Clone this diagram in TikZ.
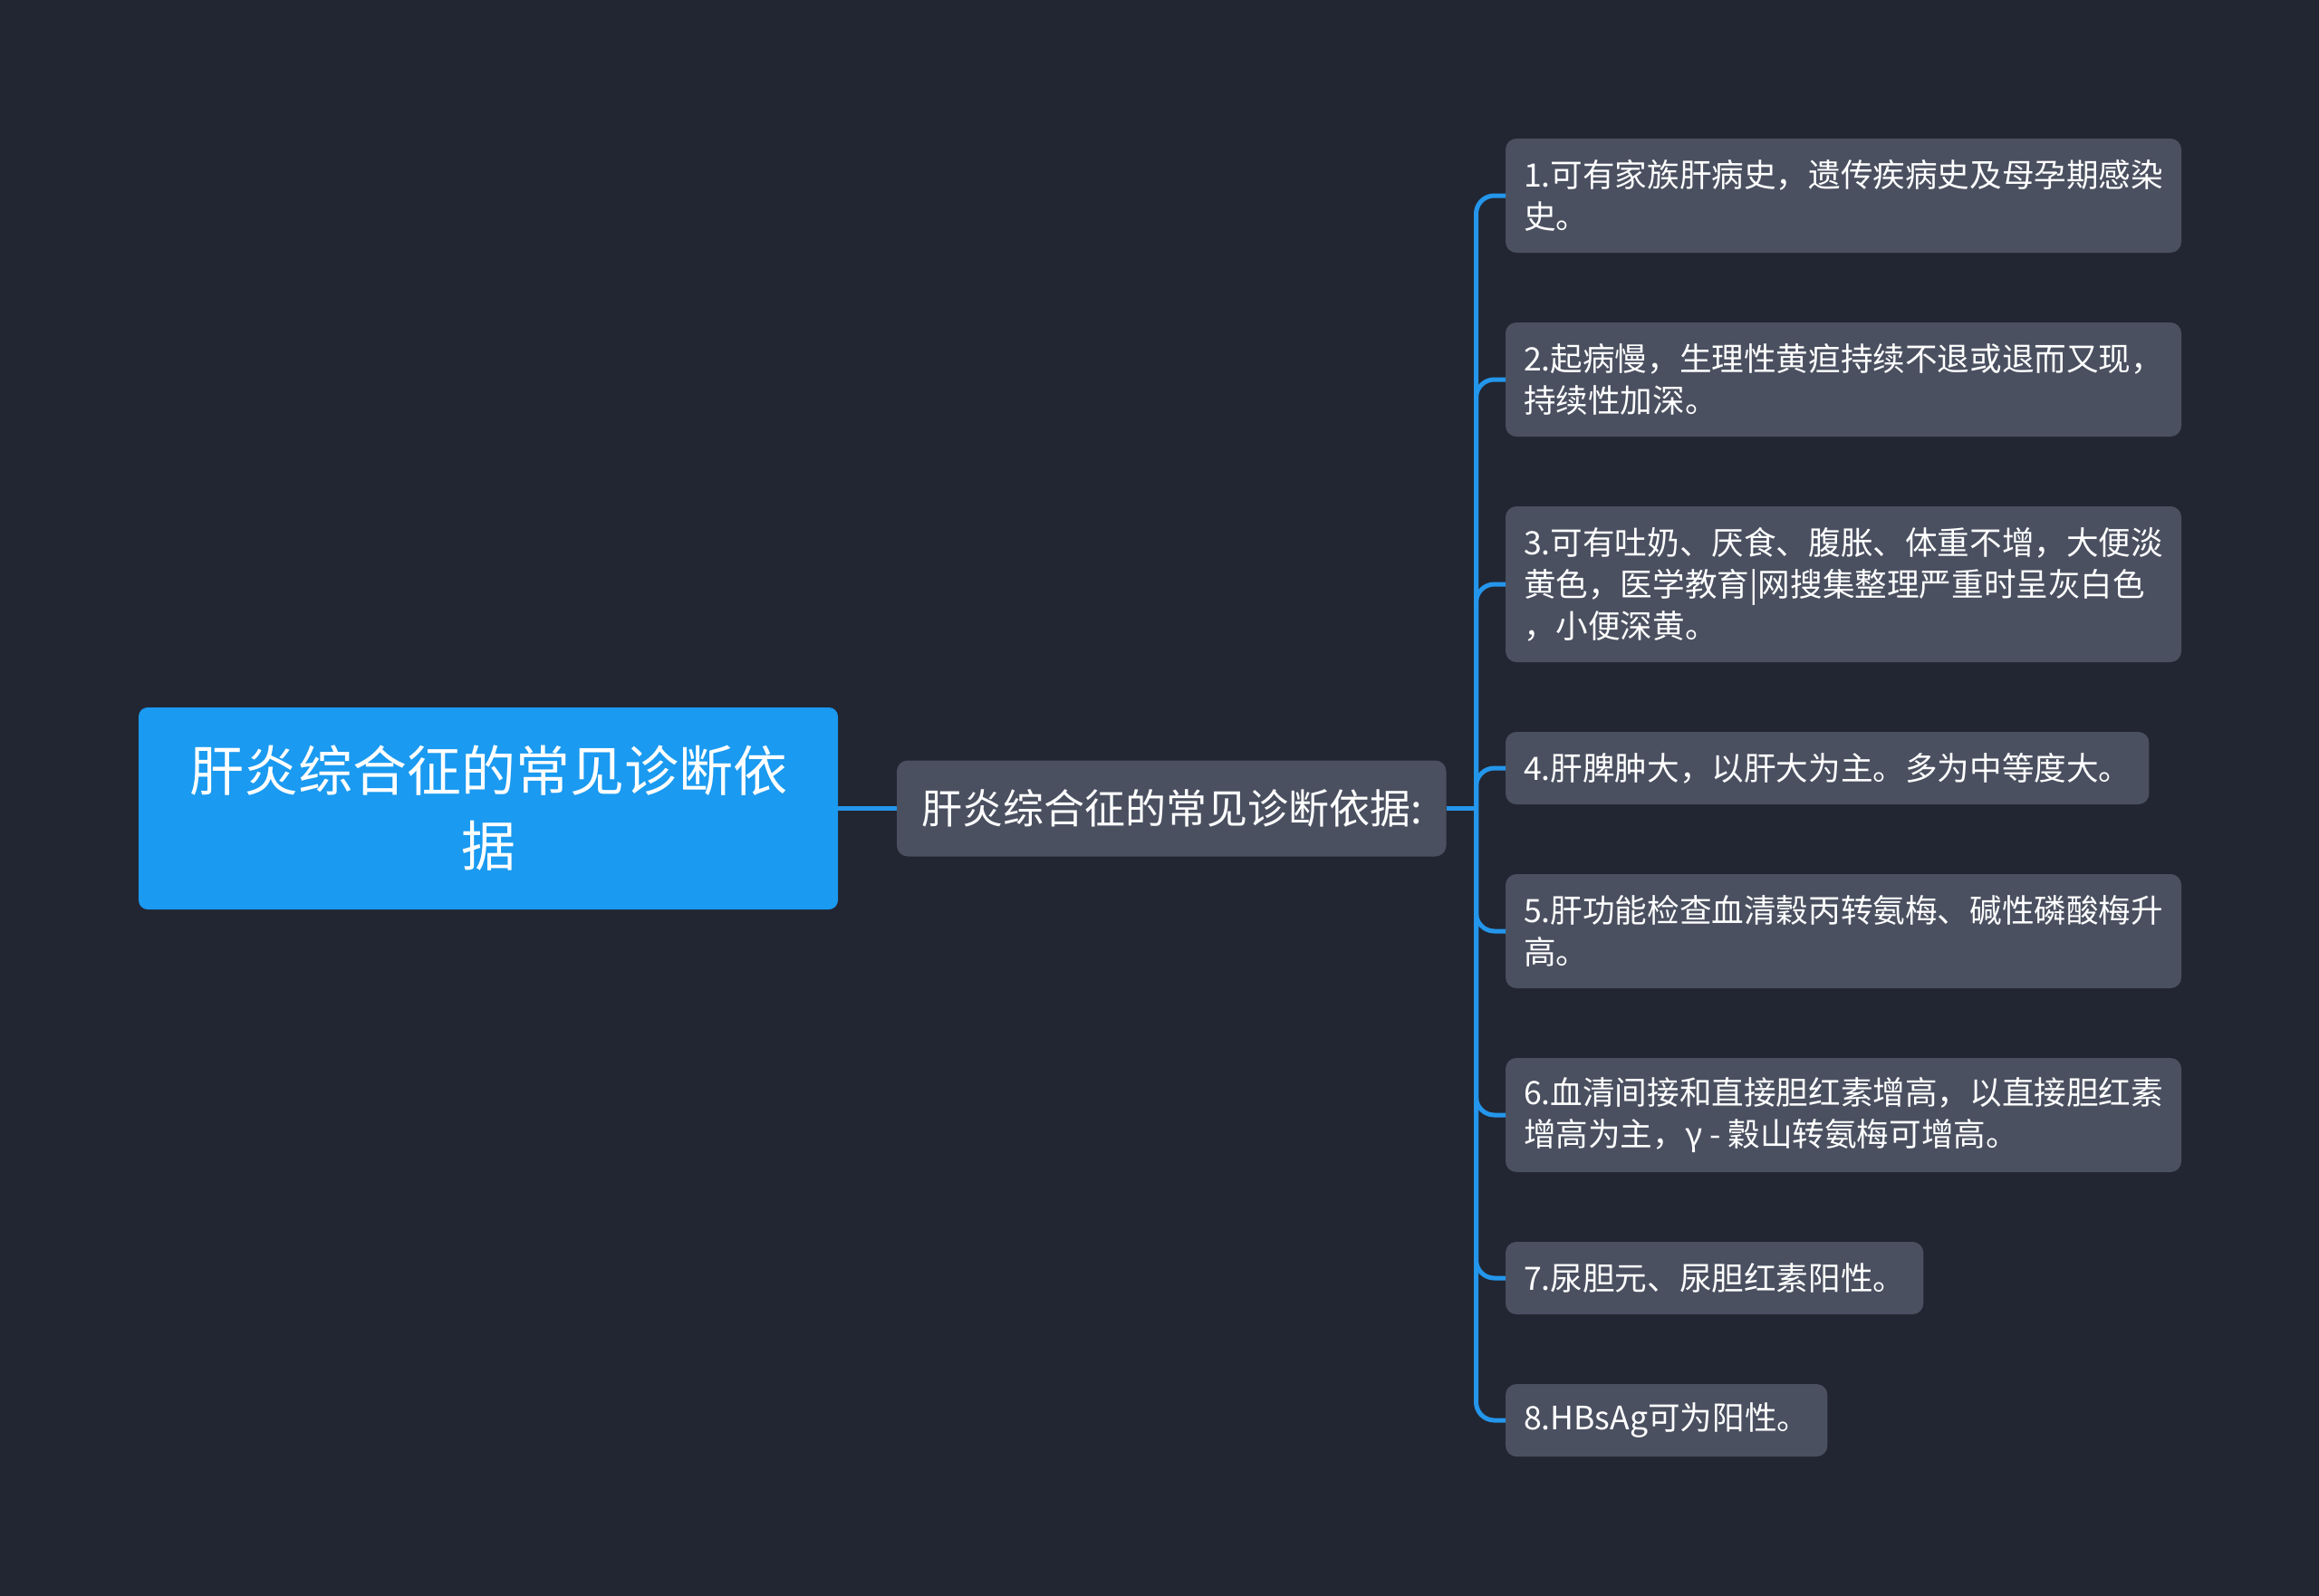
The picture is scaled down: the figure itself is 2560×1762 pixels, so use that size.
\documentclass[tikz,border=0pt]{standalone}
\usepackage{fontspec}
\setmainfont{Noto Sans CJK SC}
\usetikzlibrary{positioning,calc}
\definecolor{mapbg}{RGB}{34,38,50}
\definecolor{mapblue}{RGB}{26,154,240}
\definecolor{mapline}{RGB}{36,150,235}
\definecolor{mapgray}{RGB}{74,80,96}

\begin{document}
\begin{tikzpicture}[x=0.5pt,y=-0.5pt,line width=2.5pt,
          root/.style={fill=mapblue,rounded corners=5pt,text=white,align=center,minimum width=386pt,minimum height=111.5pt,inner sep=0pt,outer sep=0pt,font=\fontsize{30pt}{41.5pt}\selectfont},
          sub/.style ={fill=mapgray,rounded corners=6pt,text=white,minimum height=53pt,inner xsep=13.5pt,inner ysep=0pt,outer sep=0pt,font=\fontsize{22.5pt}{28pt}\selectfont},
          leaf/.style={fill=mapgray,rounded corners=6pt,text=white,align=left,minimum height=40pt,inner xsep=10pt,inner ysep=0pt,outer sep=0pt,font=\fontsize{17.8pt}{23pt}\selectfont},
          lf2/.style ={leaf,minimum height=63pt},
          lf3/.style ={leaf,minimum height=86pt}]
        \fill[mapbg] (0,0) rectangle (2560,1762);
        \node[root] (root) at (539,892.5) {肝炎综合征的常见诊断依\\据};
        \node[sub] (sub) [right=32.5pt of root] {肝炎综合征的常见诊断依据:};
        \coordinate[right=16.5pt of sub.east] (hub);
        \node[lf2,anchor=north west] (d1) at (1662,153) {1.可有家族肝病史，遗传疾病史及母孕期感染\\史。};
        \node[lf2] (d2) [below=38.5pt of d1.south west,anchor=north west] {2.起病慢，生理性黄疸持续不退或退而又现，\\持续性加深。};
        \node[lf3] (d3) [below=38.5pt of d2.south west,anchor=north west] {3.可有吐奶、厌食、腹胀、体重不增，大便淡\\黄色，医学教育|网搜集整理严重时呈灰白色\\，小便深黄。};
        \node[leaf] (d4) [below=38.5pt of d3.south west,anchor=north west] {4.肝脾肿大，以肝大为主。多为中等度大。};
        \node[lf2] (d5) [below=38.5pt of d4.south west,anchor=north west] {5.肝功能检查血清穀丙转氨梅、碱性磷酸梅升\\高。};
        \node[lf2] (d6) [below=38.5pt of d5.south west,anchor=north west] {6.血清间接和直接胆红素增高，以直接胆红素\\增高为主，γ - 穀山转氨梅可增高。};
        \node[leaf] (d7) [below=38.5pt of d6.south west,anchor=north west] {7.尿胆元、尿胆红素阳性。};
        \node[leaf] (d8) [below=38.5pt of d7.south west,anchor=north west] {8.HBsAg可为阳性。};
        \draw[mapline] (root) -- (sub);
        \draw[mapline] (sub) -- (hub);
        \foreach \i in {1,...,8}
          \draw[mapline,rounded corners=10pt] (hub) |- (d\i.west);
      \end{tikzpicture}
\end{document}
